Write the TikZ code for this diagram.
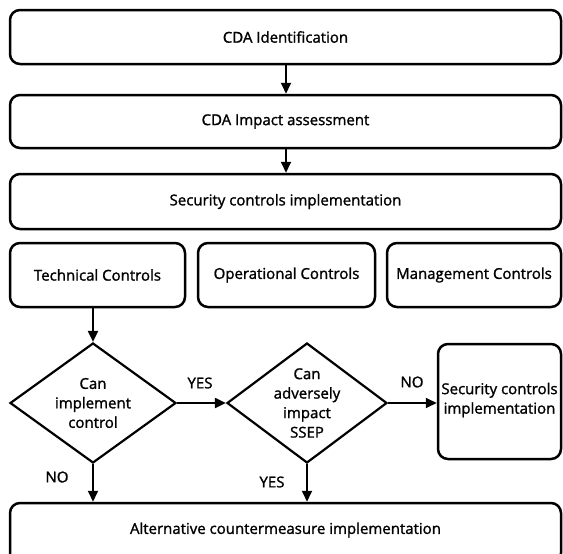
\documentclass[tikz,border=0pt]{standalone}
\usepackage{fontspec}
\setmainfont{Open Sans}[FakeBold=1.4]
\usetikzlibrary{shapes.geometric,arrows.meta}
\tikzset{
  box/.style={draw, line width=2.5pt, rounded corners=10pt, inner sep=0pt, align=center, font=\fontsize{15}{19.5}\selectfont},
  dia/.style={draw, diamond, line width=2.2pt, inner sep=0pt},
  txt/.style={align=center, inner sep=0pt, font=\fontsize{15}{19.5}\selectfont},
  arr/.style={line width=2pt, -{Triangle[length=11pt,width=10pt]}},
}
\begin{document}
\begin{tikzpicture}[x=1pt,y=-1pt]
\useasboundingbox (0,0) rectangle (563,554);
\clip (0,0) rectangle (563,554);
% top boxes
\node[box, minimum width=551pt, minimum height=54pt] (b1) at (285.5,37) {CDA Identification};
\node[box, minimum width=551pt, minimum height=53pt] (b2) at (285.5,121.5) {CDA Impact assessment};
\node[box, minimum width=551pt, minimum height=55pt] (b3) at (285.5,201.5) {Security controls implementation};
% controls row
\node[box, minimum width=175pt, minimum height=64pt] (tc) at (97.5,275) {Technical Controls};
\node[box, minimum width=177pt, minimum height=64pt] (oc) at (286.5,275) {Operational Controls};
\node[box, minimum width=174pt, minimum height=64pt] (mc) at (474,275) {Management Controls};
% diamonds
\node[dia, minimum width=166pt, minimum height=120pt] (d1) at (93,403) {};
\node[txt] (d1t) at (93,403) {Can\\implement\\control};
\node[dia, minimum width=160pt, minimum height=120pt] (d2) at (307,403) {};
\node[txt] (d2t) at (307,403) {Can\\adversely\\impact\\SSEP};
% right box
\node[box, minimum width=123pt, minimum height=115pt] (rb) at (499.5,401.5) {};
\node[txt] (rbt) at (499.5,400) {Security controls\\implementation};
% bottom box
\node[box, minimum width=551pt, minimum height=60pt] (bb) at (285.5,533) {};
\node[txt] (bbt) at (285.5,530) {Alternative countermeasure implementation};
% labels
\node[txt] (l1) at (200,383) {YES};
\node[txt] (l2) at (412,382) {NO};
\node[txt] (l3) at (57,477) {NO};
\node[txt] (l4) at (272,482) {YES};
% arrows
\draw[arr] (b1.south -| 286,0) -- (b2.north -| 286,0);
\draw[arr] (b2.south -| 286,0) -- (b3.north -| 286,0);
\draw[arr] (tc.south -| d1.north) -- (d1.north);
\draw[arr] (d1.east) -- (d2.west);
\draw[arr] (d2.east) -- (rb.west |- d2.east);
\draw[arr] (d1.south) -- (bb.north -| d1.south);
\draw[arr] (d2.south) -- (bb.north -| d2.south);
\end{tikzpicture}
\end{document}
